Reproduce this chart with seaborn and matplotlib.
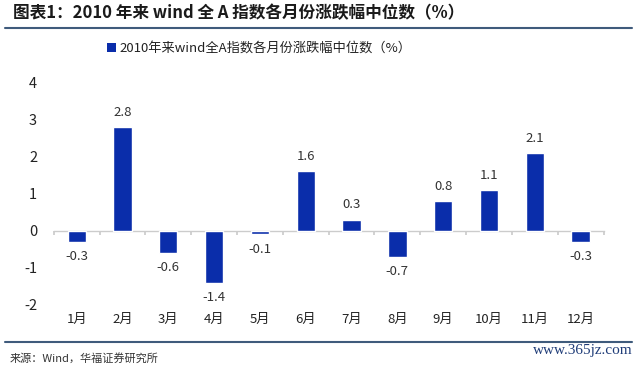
import matplotlib
matplotlib.use("Agg")
import matplotlib.pyplot as plt
import seaborn as sns
import pandas as pd
from matplotlib.lines import Line2D
from matplotlib.patches import Patch

months = ["1月", "2月", "3月", "4月", "5月", "6月", "7月", "8月", "9月", "10月", "11月", "12月"]
median_chg = [-0.3, 2.8, -0.6, -1.4, -0.1, 1.6, 0.3, -0.7, 0.8, 1.1, 2.1, -0.3]
y_ticks = [-2, -1, 0, 1, 2, 3, 4]

title = "图表1：2010 年来 wind 全 A 指数各月份涨跌幅中位数（%）"
series_name = "2010年来wind全A指数各月份涨跌幅中位数（%）"
source = "来源：Wind，华福证券研究所"

bar_color = "#0A2DAA"
line_color = "#3F5B7C"

sns.set_theme(style="white")
plt.rcParams["font.family"] = ["Noto Sans CJK SC", "DejaVu Sans"]
plt.rcParams["axes.unicode_minus"] = False

df = pd.DataFrame({"month": months, "value": median_chg})

fig = plt.figure(figsize=(6.4, 3.67), dpi=100)
ax = fig.add_axes([0.084, 0.169, 0.859, 0.607])

sns.barplot(data=df, x="month", y="value", color=bar_color, width=0.4,
            saturation=1, ax=ax)

ax.set_ylim(-2, 4)
ax.set_xlim(-0.5, len(months) - 0.5)
ax.set_yticks(y_ticks)
ax.set_yticklabels([str(t) for t in y_ticks])
ax.set_xlabel("")
ax.set_ylabel("")
for s in ax.spines.values():
    s.set_visible(False)
ax.tick_params(axis="both", length=0, colors="#222222")
ax.tick_params(axis="y", pad=12, labelsize=10.5)
ax.tick_params(axis="x", pad=6, labelsize=9.5)

# zero axis line with category boundary ticks
sec = ax.secondary_xaxis(1 / 3)
sec.set_xticks([i - 0.5 for i in range(len(months) + 1)])
sec.set_xticklabels([])
sec.tick_params(axis="x", direction="out", length=3, color="#cccccc")
sec.spines["bottom"].set_color("#cccccc")
sec.spines["bottom"].set_linewidth(1)

# data labels
for i, v in enumerate(median_chg):
    if v >= 0:
        ax.text(i, v + 0.22, f"{v:.1f}", ha="center", va="bottom", fontsize=9.5, color="#333333")
    else:
        ax.text(i, v - 0.22, f"{v:.1f}", ha="center", va="top", fontsize=9.5, color="#333333")

# legend
handle = Patch(facecolor=bar_color, edgecolor="none")
fig.legend([handle], [series_name], loc="center", bbox_to_anchor=(0.405, 0.868),
           frameon=False, fontsize=9.5, handlelength=0.7, handleheight=0.7,
           handletextpad=0.3, labelcolor="#222222")

# title, rules and source
fig.text(0.02, 0.965, title, ha="left", va="center", fontsize=12,
         fontweight="bold", color="#1a1a1a")
fig.add_artist(Line2D([0.008, 0.988], [0.923, 0.923], color=line_color, lw=1.5))
fig.add_artist(Line2D([0.008, 0.988], [0.068, 0.068], color=line_color, lw=1.5))
fig.text(0.015, 0.025, source, ha="left", va="center", fontsize=8, color="#333333")
fig.text(0.988, 0.045, "www.365jz.com", ha="right", va="center", fontsize=11,
         family="Liberation Serif", color="#1F3C78")

fig.savefig("out.png", dpi=100, facecolor="white")
